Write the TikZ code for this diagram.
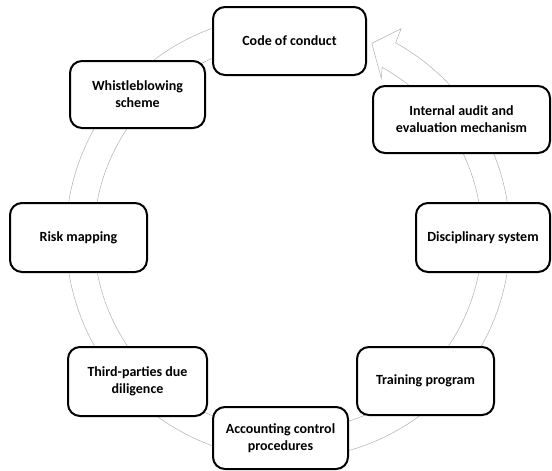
\documentclass[tikz,border=0pt]{standalone}
\usepackage{fontspec}
\setmainfont{Carlito}
\usetikzlibrary{calc}
\begin{document}
\begin{tikzpicture}[x=1pt,y=1pt,
  stage/.style={draw=black,line width=2pt,rounded corners=12pt,fill=white,
    align=center,inner sep=2pt,font=\fontsize{14}{17}\selectfont\bfseries},
  band/.style={draw=black!30,line width=0.5pt,fill=white}]
\useasboundingbox (0,0) rectangle (552,-471);
\coordinate (c) at (288,-237);
% circular arrow band
\draw[band] ($(c)+(100:222)$) arc[start angle=100,end angle=421,radius=222pt]
  -- ($(c)+(421.5:237)$) -- ($(c)+(426.6:211)$) -- ($(c)+(419.5:184)$)
  -- ($(c)+(421:194)$) arc[start angle=421,end angle=100,radius=194pt] -- cycle;
% stages
\node[stage,minimum width=153pt,minimum height=68pt] (code) at (289.5,-41) {Code of conduct};
\node[stage,minimum width=177pt,minimum height=67pt] (audit) at (461.5,-119.5) {Internal audit and\\evaluation mechanism};
\node[stage,minimum width=135pt,minimum height=67pt] (whistle) at (137.5,-94.5) {Whistleblowing\\scheme};
\node[stage,minimum width=134pt,minimum height=69pt] (disc) at (483,-237.5) {Disciplinary system};
\node[stage,minimum width=137pt,minimum height=69pt] (risk) at (78.5,-237.5) {Risk mapping};
\node[stage,minimum width=139pt,minimum height=69pt] (third) at (137.5,-381.5) {Third-parties due\\diligence};
\node[stage,minimum width=137pt,minimum height=68pt] (train) at (425.5,-381) {Training program};
\node[stage,minimum width=135pt,minimum height=62pt] (acc) at (280.5,-438) {Accounting control\\procedures};
\end{tikzpicture}
\end{document}
